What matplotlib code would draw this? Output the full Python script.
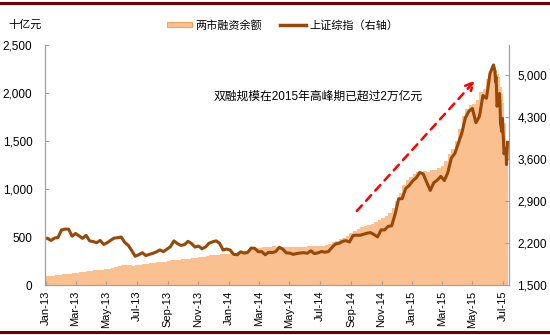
import numpy as np
import pandas as pd
import matplotlib
matplotlib.use('Agg')
import matplotlib.pyplot as plt
import matplotlib.dates as mdates
from matplotlib.patches import Patch
from matplotlib.lines import Line2D
from matplotlib.ticker import FuncFormatter

plt.rcParams['font.family'] = ['Liberation Sans', 'Noto Sans CJK SC']

# weekly (Friday) points up to 2015-06-12, then daily points to 2015-07-10
weekly_start = '2013-01-04'
weekly_end = '2015-06-12'
tail_dates = ['2015-06-15', '2015-06-16', '2015-06-17', '2015-06-18', '2015-06-19',
              '2015-06-23', '2015-06-24', '2015-06-25', '2015-06-26', '2015-06-29',
              '2015-06-30', '2015-07-01', '2015-07-02', '2015-07-03', '2015-07-06',
              '2015-07-07', '2015-07-08', '2015-07-09', '2015-07-10']

# 两市融资余额 (十亿元)
balance = [
    # 2013
    92, 95, 98, 102,
    108, 113, 113, 118,
    122, 128, 135, 140, 144,
    148, 152, 156, 160,
    165, 172, 180, 188, 195,
    205, 208, 206, 200,
    205, 212, 218, 224,
    228, 232, 236, 240, 245,
    250, 258, 262, 266,
    268, 272, 276, 280,
    284, 290, 296, 302, 308,
    314, 318, 320, 322,
    # 2014
    325, 332, 338, 342, 345,
    350, 360, 372, 382,
    390, 396, 398, 400,
    402, 400, 398, 396,
    395, 394, 396, 398, 400,
    400, 402, 404, 406,
    408, 412, 418, 430,
    445, 460, 478, 495, 510,
    540, 565, 585, 600,
    610, 625, 640, 660, 680,
    700, 720, 750, 800,
    880, 960, 1040, 1090,
    # 2015
    1120, 1160, 1180, 1170, 1190,
    1180, 1200, 1200, 1220,
    1240, 1290, 1360, 1420,
    1500, 1620, 1760, 1830,
    1870, 1880, 1930, 2010, 2040,
    2150, 2240,
]
balance_tail = [2260, 2250, 2255, 2270, 2240, 2200, 2190, 2170, 2130, 2060,
                1990, 1960, 1900, 1790, 1690, 1590, 1500, 1450, 1430]

# 上证综指
index = [
    # 2013
    2276, 2243, 2284, 2291,
    2419, 2432, 2432, 2314,
    2359, 2318, 2278, 2328, 2236,
    2225, 2206, 2244, 2177,
    2205, 2247, 2283, 2288, 2301,
    2210, 2162, 2073, 1979,
    2007, 2039, 1992, 2010,
    2029, 2052, 2085, 2057, 2098,
    2139, 2236, 2191, 2160,
    2174, 2228, 2193, 2133,
    2149, 2106, 2135, 2197, 2220,
    2237, 2196, 2084, 2101,
    # 2014
    2083, 2013, 2004, 2054, 2033,
    2044, 2116, 2113, 2056,
    2057, 2004, 2047, 2041,
    2058, 2130, 2098, 2036,
    2033, 2011, 2026, 2034, 2039,
    2030, 2070, 2024, 2036,
    2059, 2047, 2059, 2127,
    2185, 2194, 2226, 2240, 2217,
    2326, 2331, 2329, 2347,
    2364, 2374, 2341, 2302, 2420,
    2418, 2478, 2487, 2683,
    2938, 2938, 3108, 3158,
    # 2015
    3235, 3285, 3376, 3351, 3210,
    3076, 3204, 3247, 3311,
    3241, 3373, 3617, 3691,
    3864, 4034, 4287, 4394,
    4442, 4205, 4309, 4658, 4611,
    5023, 5166,
]
index_tail = [5062, 4887, 4968, 4786, 4478, 4577, 4691, 4528, 4193, 4053,
              4277, 4053, 3913, 3687, 3776, 3728, 3507, 3710, 3877]

dates = pd.date_range(weekly_start, weekly_end, freq='W-FRI').append(pd.to_datetime(tail_dates))
bal = np.array(balance + balance_tail, dtype=float)
idx = np.array(index + index_tail, dtype=float)

bar_color = '#FAC090'
line_color = '#984807'
axis_gray = '#A0A0A0'

fig = plt.figure(figsize=(5.5, 3.35), dpi=100)
ax = fig.add_axes([0.0818, 0.149, 0.8437, 0.717])
ax2 = ax.twinx()

x = mdates.date2num(dates)
w = np.diff(x, prepend=x[0] - 7)
ax.bar(x, bal, width=-w, align='edge', color=bar_color, linewidth=0)
ax2.plot(x, idx, color=line_color, lw=2.2)

ax.set_xlim(mdates.date2num(pd.Timestamp('2012-12-30')), mdates.date2num(pd.Timestamp('2015-07-13')))
ax.set_ylim(0, 2500)
ax.set_yticks(np.arange(0, 2501, 500))
ax2.set_ylim(1500, 5500)
ax2.set_yticks(np.arange(1500, 5001, 700))

fmt = FuncFormatter(lambda v, p: f'{int(v):,}')
ax.yaxis.set_major_formatter(fmt)
ax2.yaxis.set_major_formatter(fmt)

ax.xaxis.set_major_locator(mdates.MonthLocator(bymonth=[1, 3, 5, 7, 9, 11]))
ax.xaxis.set_major_formatter(mdates.DateFormatter('%b-%y'))
for lab in ax.get_xticklabels():
    lab.set_rotation(90)

for a in (ax, ax2):
    a.spines['top'].set_visible(False)
    for s in ('left', 'right', 'bottom'):
        a.spines[s].set_color(axis_gray)
    a.tick_params(direction='in', length=3, color=axis_gray, labelsize=8.5)
ax.tick_params(axis='x', labelsize=8, pad=4)
ax.tick_params(axis='y', pad=9)
ax2.tick_params(axis='y', pad=6)

# 单位
fig.text(0.015, 0.925, '十亿元', fontsize=8, ha='left', va='center')

# 图例
handles = [Patch(facecolor=bar_color, edgecolor='#F4A460', linewidth=0.8),
           Line2D([], [], color=line_color, lw=2.5)]
fig.legend(handles, ['两市融资余额', '上证综指（右轴）'], loc='center left',
           bbox_to_anchor=(0.285, 0.925), ncol=2, frameon=False, fontsize=8,
           handlelength=2.3, handleheight=0.35, handletextpad=0.3, columnspacing=1.6)

# 注释与箭头
ax.text(0.588, 0.783, '双融规模在2015年高峰期已超过2万亿元', transform=ax.transAxes,
        fontsize=8.5, ha='center', va='center')
ax.annotate('', xy=(0.931, 0.86), xytext=(0.668, 0.30), xycoords='axes fraction',
            textcoords='axes fraction',
            arrowprops=dict(arrowstyle='->', color='red', lw=1.8, linestyle=(0, (3, 2.5)),
                            mutation_scale=14))

# 上下装饰线
fig.add_artist(Line2D([0, 1], [0.991, 0.991], color='#700000', lw=2.2, transform=fig.transFigure))
fig.add_artist(Line2D([0, 1], [0.009, 0.009], color='#700000', lw=2.2, transform=fig.transFigure))

fig.savefig('out.png', dpi=100)
